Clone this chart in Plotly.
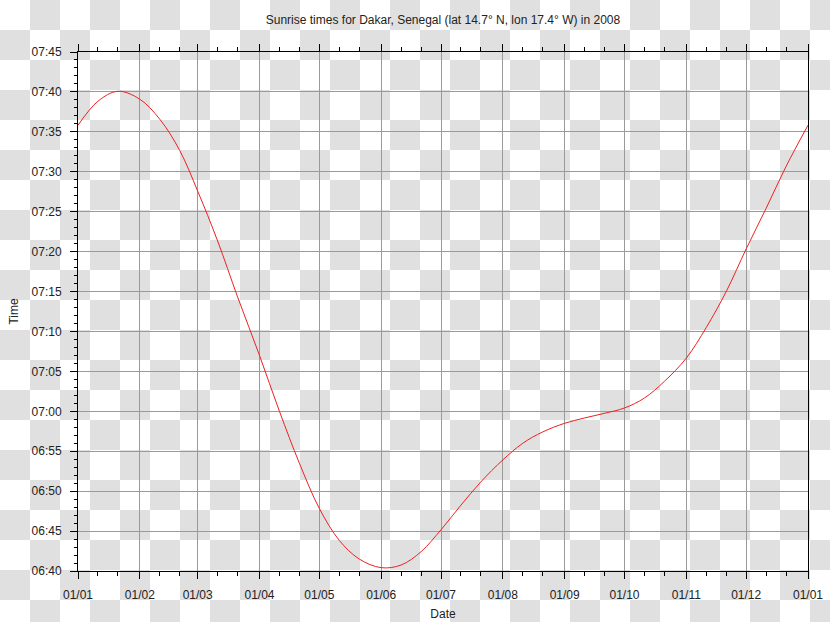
import plotly.graph_objects as go

# ---- data (1st, 11th, 21st of each month) ----
dates = ["2008-01-01", "2008-01-11", "2008-01-21", "2008-02-01", "2008-02-11",
         "2008-02-21", "2008-03-01", "2008-03-11", "2008-03-21", "2008-04-01",
         "2008-04-11", "2008-04-21", "2008-05-01", "2008-05-11", "2008-05-21",
         "2008-06-01", "2008-06-11", "2008-06-21", "2008-07-01", "2008-07-11",
         "2008-07-21", "2008-08-01", "2008-08-11", "2008-08-21", "2008-09-01",
         "2008-09-11", "2008-09-21", "2008-10-01", "2008-10-11", "2008-10-21",
         "2008-11-01", "2008-11-11", "2008-11-21", "2008-12-01", "2008-12-11",
         "2008-12-21", "2009-01-01"]
sunrise = ["07:35:50", "07:38:50", "07:40:05", "07:39:05", "07:36:35",
           "07:32:40", "07:27:35", "07:21:20", "07:14:20", "07:07:00",
           "07:00:00", "06:53:30", "06:47:50", "06:43:50", "06:41:30",
           "06:40:25", "06:40:45", "06:42:25", "06:45:10", "06:48:15",
           "06:51:10", "06:53:55", "06:56:00", "06:57:25", "06:58:30",
           "06:59:10", "06:59:45", "07:00:25", "07:01:40", "07:03:45",
           "07:06:40", "07:10:30", "07:15:00", "07:20:20", "07:25:25",
           "07:30:40", "07:35:50"]
month_ticks = ["2008-%02d-01" % m for m in range(1, 13)] + ["2009-01-01"]
month_labels = ["01/%02d" % m for m in range(1, 13)] + ["01/01"]
minor_ticks = ["2008-%02d-%02d" % (m, d) for m in range(1, 13) for d in (11, 21)]
title = "Sunrise times for Dakar, Senegal (lat 14.7° N, lon 17.4° W) in 2008"

W, H = 830, 622
L, R, T, B = 78, 22, 52, 51
PW, PH = W - L - R, H - T - B
FONT = dict(family="Liberation Sans, Arial, sans-serif", size=12, color="#222222")

fig = go.Figure()
fig.add_trace(go.Scatter(
    x=dates,
    y=["2008-01-01 " + t for t in sunrise],
    mode="lines",
    line=dict(color="#ee2020", width=1, shape="spline", smoothing=1.0),
    hoverinfo="skip",
    showlegend=False,
))

# checkerboard backdrop (transparency pattern of the reference image)
tile = 30
shapes = []
for r in range((H + tile - 1) // tile):
    for c in range((W + tile - 1) // tile):
        if (r + c) % 2 == 1:
            x0, x1 = c * tile, min((c + 1) * tile, W)
            y0, y1 = r * tile, min((r + 1) * tile, H)
            shapes.append(dict(
                type="rect", xref="paper", yref="paper", layer="below",
                x0=(x0 - L) / PW, x1=(x1 - L) / PW,
                y0=(H - B - y1) / PH, y1=(H - B - y0) / PH,
                fillcolor="#e0e0e0", line=dict(width=0),
            ))

fig.update_layout(
    width=W, height=H, autosize=False,
    margin=dict(l=L, r=R, t=T, b=B, pad=0, autoexpand=False),
    paper_bgcolor="white",
    plot_bgcolor="rgba(0,0,0,0)",
    font=FONT,
    shapes=shapes,
    title=dict(text=title, x=(L + PW / 2) / W, xref="container", xanchor="center",
               y=1 - 20 / H, yref="container", yanchor="middle",
               font=dict(size=12, family=FONT["family"], color="#222222")),
    xaxis=dict(
        type="date", automargin=False,
        range=["2008-01-01", "2009-01-01"],
        tickmode="array", tickvals=month_ticks, ticktext=month_labels,
        ticks="outside", ticklen=7, tickwidth=1, tickcolor="black",
        showline=True, linecolor="black", linewidth=1, mirror="ticks",
        showgrid=True, gridcolor="#9a9a9a", gridwidth=1,
        zeroline=False,
        minor=dict(tickmode="array", tickvals=minor_ticks, ticks="outside",
                   ticklen=4, tickwidth=1, tickcolor="black", showgrid=False),
        ticklabelstandoff=6,
        title=dict(text="Date", standoff=8, font=FONT),
        tickfont=FONT,
    ),
    yaxis=dict(
        type="date", automargin=False,
        range=["2008-01-01 06:40", "2008-01-01 07:45"],
        tick0="2008-01-01 06:40", dtick=300000, tickformat="%H:%M",
        ticks="outside", ticklen=7, tickwidth=1, tickcolor="black",
        showline=True, linecolor="black", linewidth=1, mirror=True,
        showgrid=True, gridcolor="#9a9a9a", gridwidth=1,
        zeroline=False,
        minor=dict(dtick=60000, tick0="2008-01-01 06:40", ticks="outside",
                   ticklen=3, tickwidth=1, tickcolor="black", showgrid=False),
        ticklabelstandoff=6,
        title=dict(text="Time", standoff=10, font=FONT),
        tickfont=FONT,
    ),
)

fig.write_html("out.html")
